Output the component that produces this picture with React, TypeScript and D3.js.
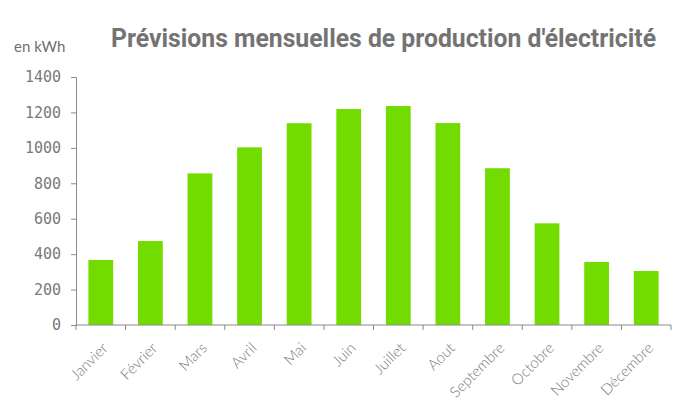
import React, { useRef, useEffect } from 'react';
import * as d3 from 'd3';

const months = ['Janvier', 'Février', 'Mars', 'Avril', 'Mai', 'Juin', 'Juillet', 'Aout', 'Septembre', 'Octobre', 'Novembre', 'Décembre'];
const production = [367, 474, 856, 1003, 1139, 1219, 1236, 1140, 885, 574, 356, 305];
const yTicks = [0, 200, 400, 600, 800, 1000, 1200, 1400];

const width = 690;
const height = 408;

const App: React.FC = () => {
    const svgRef = useRef<SVGSVGElement | null>(null);

    useEffect(() => {
        document.body.style.margin = '0';
        d3.select(svgRef.current).selectAll('*').remove();

        const margin = { top: 77, right: 19, bottom: 83, left: 76 };
        const innerWidth = width - margin.left - margin.right;
        const innerHeight = height - margin.top - margin.bottom;

        const svg = d3.select(svgRef.current)
            .attr('width', width)
            .attr('height', height);

        // Title
        svg.append('text')
            .attr('x', 111)
            .attr('y', 47)
            .attr('textLength', 545)
            .attr('lengthAdjust', 'spacingAndGlyphs')
            .style('font-family', 'Roboto, sans-serif')
            .style('font-weight', 'bold')
            .style('font-size', '25px')
            .style('fill', '#737373')
            .text("Prévisions mensuelles de production d'électricité");

        // unit label
        svg.append('text')
            .attr('x', 14)
            .attr('y', 52)
            .style('font-family', 'Lato, sans-serif')
            .style('font-size', '15px')
            .style('fill', '#6f6f6f')
            .text('en kWh');

        const g = svg.append('g')
            .attr('transform', `translate(${margin.left},${margin.top})`);

        const x = d3.scaleBand<string>()
            .domain(months)
            .range([0, innerWidth])
            .paddingInner(0.5)
            .paddingOuter(0.25);

        const y = d3.scaleLinear()
            .domain([0, 1400])
            .range([innerHeight, 0]);

        // bars
        g.selectAll('.bar')
            .data(production)
            .enter()
            .append('rect')
            .attr('class', 'bar')
            .attr('x', (d, i) => x(months[i]) as number)
            .attr('y', d => y(d))
            .attr('width', x.bandwidth())
            .attr('height', d => innerHeight - y(d))
            .style('fill', '#72dc00');

        // y axis
        const yAxis = g.append('g')
            .call(d3.axisLeft(y).tickValues(yTicks).tickSize(5).tickSizeOuter(5).tickPadding(10).tickFormat(d3.format('d')));
        yAxis.select('.domain').style('stroke', '#8a8a8a');
        yAxis.selectAll('line').style('stroke', '#8a8a8a');
        yAxis.selectAll('text')
            .style('font-family', '"DejaVu Sans Mono", monospace')
            .style('font-size', '15px')
            .style('fill', '#7a7a7a');

        // x axis, ticks at band boundaries
        const step = x.step();
        const boundaries = d3.range(months.length + 1).map(i => i * step);
        g.append('line')
            .attr('x1', 0)
            .attr('x2', innerWidth)
            .attr('y1', innerHeight)
            .attr('y2', innerHeight)
            .style('stroke', '#8a8a8a');
        g.selectAll('.xtick')
            .data(boundaries)
            .enter()
            .append('line')
            .attr('x1', d => d)
            .attr('x2', d => d)
            .attr('y1', innerHeight)
            .attr('y2', innerHeight + 5)
            .style('stroke', '#8a8a8a');

        g.selectAll('.xlabel')
            .data(months)
            .enter()
            .append('text')
            .attr('transform', d => `translate(${(x(d) as number) + x.bandwidth() / 2 + 8},${innerHeight + 24}) rotate(-45)`)
            .attr('text-anchor', 'end')
            .style('font-family', 'Lato, sans-serif')
            .style('font-weight', '300')
            .style('font-size', '15px')
            .style('fill', '#7a7a7a')
            .text(d => d);
    }, []);

    return (
        <div>
            <svg ref={svgRef} style={{ display: 'block' }}></svg>
        </div>
    );
};

export default App;
